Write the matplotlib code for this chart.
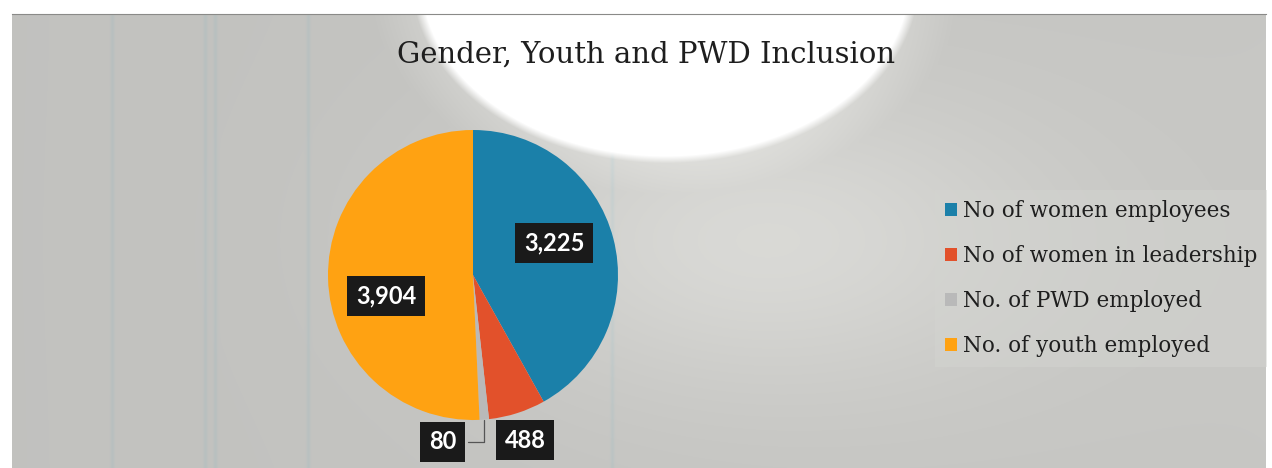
import numpy as np
import matplotlib
matplotlib.use("Agg")
import matplotlib.pyplot as plt

# data
categories = ["No of women employees", "No of women in leadership",
              "No. of PWD employed", "No. of youth employed"]
values = [3225, 488, 80, 3904]
value_labels = ["3,225", "488", "80", "3,904"]
colors = ["#1b80a9", "#e2512b", "#b9b9b9", "#ffa212"]

# where the data labels sit (pie data coords, radius = 1)
label_pos = [(0.56, 0.22), (0.36, -1.14), (-0.21, -1.15), (-0.60, -0.145)]

W, H = 1272, 468
fig = plt.figure(figsize=(W / 100, H / 100), dpi=100)
fig.patch.set_facecolor("white")

# background panel with a white blob behind the title
bx0, by0, bx1, by1 = 12, 14, 1266, 468
bg = fig.add_axes([bx0 / W, 0, (bx1 - bx0) / W, (by1 - by0) / H])
xx, yy = np.meshgrid(np.arange(bx0, bx1), np.arange(by0, by1))
base = 0.76 + 0.02 * (xx / W)
glow = np.exp(-(((xx - 760) / 280) ** 2 + ((yy - 240) / 150) ** 2))
d = ((xx - 665) / 250) ** 2 + ((yy + 20) / 180) ** 2
blob = np.clip((1.03 - d) / 0.08, 0, 1)
halo = np.clip((1.4 - d) / 0.4, 0, 1)
shade = np.clip(base + 0.08 * glow + 0.04 * halo, 0, 1)
shade = shade * (1 - blob) + 1.0 * blob
img = np.dstack([shade, shade * 1.0, shade * 0.985 + 0.015 * blob])
# faint vertical stripes on the left
for sx in [112, 205, 215, 308, 612]:
    m = np.exp(-((xx - sx) / 2.0) ** 2) * (1 - blob)
    img[..., 0] -= 0.04 * m
    img[..., 1] -= 0.01 * m
img = np.clip(img, 0, 1)
bg.imshow(img, aspect="auto", extent=(0, 1, 0, 1), origin="upper")
bg.set_xlim(0, 1)
bg.set_ylim(0, 1)
bg.axis("off")
fig.add_artist(plt.Line2D([bx0 / W, bx1 / W], [1 - by0 / H, 1 - by0 / H],
                          color="#8a8a88", lw=0.8))

# title
fig.text(646 / W, 1 - 55 / H, "Gender, Youth and PWD Inclusion",
         ha="center", va="center", fontsize=21, family="DejaVu Serif",
         color="#1e1e1e")

# pie
cx, cy, r = 473, 275, 145
ax = fig.add_axes([(cx - r) / W, (H - cy - r) / H, 2 * r / W, 2 * r / H])
wedges, _ = ax.pie(values, colors=colors, startangle=90, counterclock=False,
                   radius=1, wedgeprops=dict(linewidth=0))
ax.set_xlim(-1, 1)
ax.set_ylim(-1, 1)
ax.axis("off")

box = dict(boxstyle="square,pad=0.36", fc="#1a1a1a", ec="none")
for i, (w, lab) in enumerate(zip(wedges, value_labels)):
    lx, ly = label_pos[i]
    if values[i] < 100:
        mid = np.deg2rad((w.theta1 + w.theta2) / 2)
        ax.annotate(lab, xy=(np.cos(mid), np.sin(mid)), xytext=(lx, ly),
                    ha="center", va="center", fontsize=17, fontweight="bold",
                    family="Lato", color="white", bbox=box,
                    arrowprops=dict(arrowstyle="-", color="#555555", lw=0.9,
                                    shrinkB=0,
                                    connectionstyle="angle,angleA=0,angleB=90,rad=0"),
                    annotation_clip=False)
    else:
        ax.text(lx, ly, lab, ha="center", va="center", fontsize=17,
                fontweight="bold", family="Lato", color="white", bbox=box,
                clip_on=False)

# legend
leg = fig.legend(wedges, categories, loc="upper left",
                 bbox_to_anchor=(935 / W, 1 - 190 / H),
                 prop=dict(family="DejaVu Serif", size=15.5),
                 frameon=True, fancybox=False, handlelength=0.56,
                 handleheight=0.56, handletextpad=0.28, labelspacing=1.08,
                 borderpad=0.45, borderaxespad=0)
leg.get_frame().set_facecolor("#d3d4d0")
leg.get_frame().set_alpha(0.5)
leg.get_frame().set_edgecolor("none")
for t in leg.get_texts():
    t.set_color("#1e1e1e")

fig.savefig("out.png", dpi=100)
